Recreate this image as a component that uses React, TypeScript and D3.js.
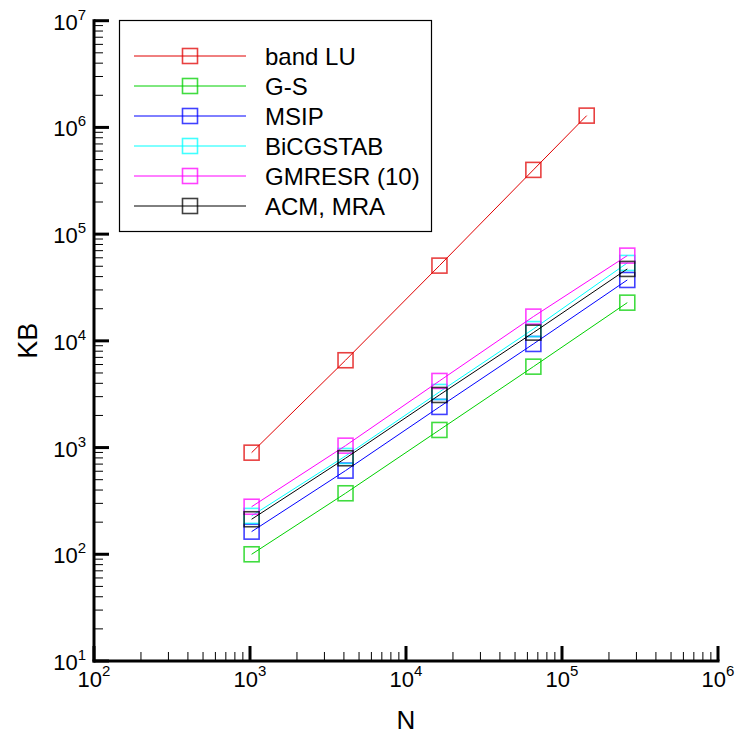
import React from "react";
import * as d3 from "d3";

const nValues = [1024, 4096, 16384, 65536, 262144];
const bandLuN = [1024, 4096, 16384, 65536, 144000];
const bandLU = [896, 6580, 50700, 400000, 1290000];
const gaussSeidel = [100, 373, 1462, 5730, 22800];
const msip = [163, 608, 2404, 9350, 37200];
const bicgstab = [229, 834, 3320, 12900, 53700];
const gmresr = [279, 1042, 4210, 16870, 62900];
const acmMra = [213, 794, 3110, 11940, 47200];

const seriesNames = ["band LU", "G-S", "MSIP", "BiCGSTAB", "GMRESR (10)", "ACM, MRA"];
const seriesColors = ["#e00000", "#00d000", "#0000ff", "#00ffff", "#ff00ff", "#000000"];
const xDecades = [2, 3, 4, 5, 6];
const yDecades = [1, 2, 3, 4, 5, 6, 7];

const FONT = "Liberation Sans, Arial, Helvetica, sans-serif";

export default function App() {
  const x = d3.scaleLog().domain([1e2, 1e6]).range([94, 718]);
  const y = d3.scaleLog().domain([1e1, 1e7]).range([661, 20.7]);

  const series = [
    { xs: bandLuN, ys: bandLU },
    { xs: nValues, ys: gaussSeidel },
    { xs: nValues, ys: msip },
    { xs: nValues, ys: bicgstab },
    { xs: nValues, ys: gmresr },
    { xs: nValues, ys: acmMra },
  ];

  const line = d3
    .line<[number, number]>()
    .x((d) => x(d[0]))
    .y((d) => y(d[1]));

  const minorX: number[] = [];
  for (let e = 2; e < 6; e++) for (let m = 2; m <= 9; m++) minorX.push(m * Math.pow(10, e));
  const minorY: number[] = [];
  for (let e = 1; e < 7; e++) for (let m = 2; m <= 9; m++) minorY.push(m * Math.pow(10, e));

  const ms = 15;
  const x0 = x(1e2);
  const yb = y(1e1);

  return (
    <svg
      width={740}
      height={739}
      style={{ position: "absolute", left: 0, top: 0, background: "#fff" }}
      fontFamily={FONT}
    >
      <rect x={0} y={0} width={740} height={739} fill="#fff" />
      {/* series */}
      {series.map((s, i) => (
        <g key={i}>
          <path
            d={line(s.xs.map((v, j) => [v, s.ys[j]] as [number, number])) || ""}
            fill="none"
            stroke={seriesColors[i]}
            strokeWidth={1}
          />
          {s.xs.map((v, j) => (
            <rect
              key={j}
              x={x(v) - ms / 2}
              y={y(s.ys[j]) - ms / 2}
              width={ms}
              height={ms}
              fill="none"
              stroke={seriesColors[i]}
              strokeOpacity={0.75}
              strokeWidth={1.6}
            />
          ))}
        </g>
      ))}

      {/* axes */}
      <g stroke="#000">
        {minorX.map((v, i) => (
          <line key={"mx" + i} x1={x(v)} x2={x(v)} y1={yb} y2={yb - 9} strokeWidth={1} />
        ))}
        {xDecades.map((e) => (
          <line
            key={"Mx" + e}
            x1={x(Math.pow(10, e))}
            x2={x(Math.pow(10, e))}
            y1={yb}
            y2={yb - 15}
            strokeWidth={3}
          />
        ))}
        {minorY.map((v, i) => (
          <line key={"my" + i} x1={x0} x2={x0 + 9} y1={y(v)} y2={y(v)} strokeWidth={1} />
        ))}
        {yDecades.map((e) => (
          <line
            key={"My" + e}
            x1={x0}
            x2={x0 + 15}
            y1={y(Math.pow(10, e))}
            y2={y(Math.pow(10, e))}
            strokeWidth={3}
          />
        ))}
        <line x1={x0 - 1.5} x2={x(1e6) + 1.5} y1={yb} y2={yb} strokeWidth={3} />
        <line x1={x0} x2={x0} y1={y(1e7) - 1.5} y2={yb + 1.5} strokeWidth={3} />
      </g>

      {/* tick labels */}
      {xDecades.map((e) => (
        <text
          key={"lx" + e}
          x={x(Math.pow(10, e))}
          y={687}
          textAnchor="middle"
          fontSize={22}
          fill="#000"
        >
          10
          <tspan fontSize={15} dy={-11}>
            {e}
          </tspan>
        </text>
      ))}
      {yDecades.map((e) => (
        <text
          key={"ly" + e}
          x={86}
          y={y(Math.pow(10, e)) + 9}
          textAnchor="end"
          fontSize={22}
          fill="#000"
        >
          10
          <tspan fontSize={15} dy={-10}>
            {e}
          </tspan>
        </text>
      ))}

      {/* axis titles */}
      <text x={406} y={729} textAnchor="middle" fontSize={26} fill="#000">
        N
      </text>
      <text
        transform={`translate(36.5,${(y(1e7) + yb) / 2}) rotate(-90)`}
        textAnchor="middle"
        fontSize={27}
        fill="#000"
      >
        KB
      </text>

      {/* legend */}
      <rect x={119.5} y={20.5} width={312} height={211} fill="#fff" stroke="#000" strokeWidth={1.2} />
      {seriesNames.map((name, i) => {
        const ly = 56 + i * 30;
        return (
          <g key={"lg" + i}>
            <line x1={134} x2={246} y1={ly} y2={ly} stroke={seriesColors[i]} strokeWidth={1} />
            <rect
              x={190 - ms / 2}
              y={ly - ms / 2}
              width={ms}
              height={ms}
              fill="none"
              stroke={seriesColors[i]}
              strokeOpacity={0.75}
              strokeWidth={1.6}
            />
            <text x={265} y={ly + 8.5} fontSize={24} fill="#000">
              {name}
            </text>
          </g>
        );
      })}
    </svg>
  );
}
